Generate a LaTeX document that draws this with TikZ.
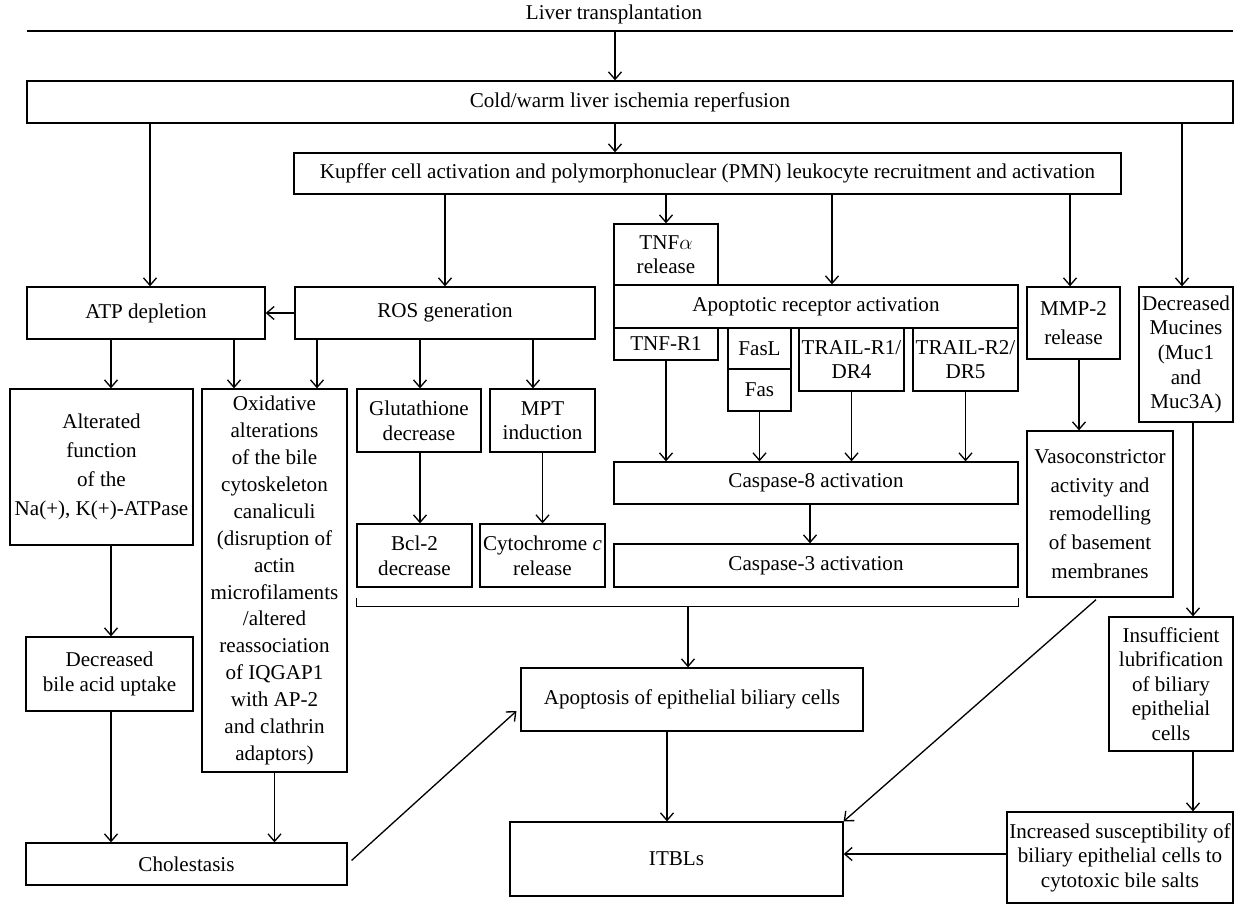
\documentclass[tikz,border=0pt]{standalone}
\usepackage{fontspec}
\setmainfont{Liberation Serif}
\usetikzlibrary{positioning,calc,arrows.meta}

\begin{document}
\begin{tikzpicture}[
    x=0.02cm, y=-0.02cm, % one unit is one pixel of the layout
    font=\fontsize{12}{14}\selectfont,
    box/.style={draw, rectangle, align=center, inner sep=1pt, line width=0.75pt}, % box style
    sz/.style 2 args={minimum width=#1*0.02cm, minimum height=#2*0.02cm}, % box size in px
    wide/.style={font=\fontsize{12}{16.4}\selectfont}, % looser line spacing
    arrow/.style={-{Straight Barb[length=1.5mm,width=2.6mm]}, line width=0.75pt} % arrow style
    ]
    \useasboundingbox (0,0) rectangle (1234,904);

    % Top line
    \node (LT) at (614,14) {Liver transplantation};
    \draw[line width=0.75pt] (27,31) -- (1233,31);
    \coordinate (T0) at (615,31);

    % Ischemia and Kupffer cells
    \node[box, sz={1206}{42}] (cold) at (630,102) {Cold/warm liver ischemia reperfusion};
    \node[box, sz={827}{41}] (kupffer) at (707.5,173.5) {Kupffer cell activation and polymorphonuclear (PMN) leukocyte recruitment and activation};

    % ATP and ROS
    \node[box, sz={238}{52}] (atp) at (146,313) {ATP depletion};
    \node[box, sz={300}{52}] (ros) at (445,313) {ROS generation};
    \node[box, sz={183}{156}, wide] (alt) at (101.5,467) {Alterated\\function\\of the\\Na(+), K(+)-ATPase};
    \node[box, sz={145}{383}, font=\fontsize{12}{15.3}\selectfont] (oxi) at (274.5,580.5) {Oxidative\\alterations\\of the bile\\cytoskeleton\\canaliculi\\(disruption of\\actin\\microfilaments\\/altered\\reassociation\\of IQGAP1\\with AP-2\\and clathrin\\adaptors)};
    \node[box, sz={124}{63}] (glu) at (419,420.5) {Glutathione\\decrease};
    \node[box, sz={105}{63}] (mpt) at (542.5,420.5) {MPT\\induction};
    \node[box, sz={115}{63}] (bcl) at (414.5,555.5) {Bcl-2\\decrease};
    \node[box, sz={125}{63}] (cyt) at (542.5,555.5) {Cytochrome \textit{c}\\release};

    % Apoptotic receptors
    \node[box, sz={104}{61}] (tnfa) at (666,254.5) {TNF$\alpha$\\release};
    \node[box, sz={404}{43}] (apr) at (816,306.5) {Apoptotic receptor activation};
    \node[box, sz={104}{32}] (tnfr1) at (666,344) {TNF-R1};
    \node[box, sz={63}{41}] (fasl) at (759.5,348.5) {FasL};
    \node[box, sz={63}{42}] (fas) at (759.5,390) {Fas};
    \node[box, sz={105}{63}] (trail1) at (851.5,359.5) {TRAIL-R1/\\DR4};
    \node[box, sz={105}{63}] (trail2) at (965.5,359.5) {TRAIL-R2/\\DR5};
    \node[box, sz={404}{42}] (casp8) at (816,483) {Caspase-8 activation};
    \node[box, sz={404}{43}] (casp3) at (816,565.5) {Caspase-3 activation};

    % MMP-2 and mucines
    \node[box, sz={93}{72}, wide] (mmp) at (1073.5,323) {MMP-2\\release};
    \node[box, sz={94}{135}] (muc) at (1186,354.5) {Decreased\\Mucines\\(Muc1\\and\\Muc3A)};
    \node[box, sz={146}{166}, wide] (vaso) at (1100,514) {Vasoconstrictor\\activity and\\remodelling\\of basement\\membranes};
    \node[box, sz={124}{134}] (insuf) at (1171,684) {Insufficient\\lubrification\\of biliary\\epithelial\\cells};

    % Lower part
    \node[box, sz={167}{74}] (dec) at (109.5,674) {Decreased\\bile acid uptake};
    \node[box, sz={321}{42}] (chol) at (186.5,864) {Cholestasis};
    \node[box, sz={342}{63}] (apo) at (692,699.5) {Apoptosis of epithelial biliary cells};
    \node[box, sz={333}{74}] (itbl) at (676.5,859) {ITBLs};
    \node[box, sz={226}{91}] (incr) at (1120,857.5) {Increased susceptibility of\\biliary epithelial cells to\\cytotoxic bile salts};

    % Bracket under the apoptotic boxes
    \draw[line width=0.75pt] ($(bcl.south west)+(0,10)$) -- ++(0,9) -| ($(casp3.south east)+(0,10)$);
    \coordinate (brk) at (688,606);

    % Columns of the vertical arrows
    \coordinate (xA) at (150,0);
    \coordinate (xM) at (1182,0);
    \coordinate (xP) at (832,0);
    \coordinate (xMM) at (1070,0);
    \coordinate (xL) at (111,0);
    \coordinate (xO1) at (234,0);
    \coordinate (xO2) at (317,0);
    \coordinate (xG) at (420,0);
    \coordinate (xMP) at (533,0);
    \coordinate (xC8) at (810,0);
    \coordinate (xV) at (1079,0);
    \coordinate (xI) at (1193,0);
    \coordinate (xIt) at (667,0);

    % Arrows from the top
    \draw[arrow] (T0) -- (T0 |- cold.north);
    \draw[arrow] (T0 |- cold.south) -- (T0 |- kupffer.north);
    \draw[arrow] (xA |- cold.south) -- (xA |- atp.north);
    \draw[arrow] (xM |- cold.south) -- (xM |- muc.north);

    % Arrows from Kupffer cells
    \draw[arrow] (ros.north |- kupffer.south) -- (ros.north);
    \draw[arrow] (tnfa.north |- kupffer.south) -- (tnfa.north);
    \draw[arrow] (xP |- kupffer.south) -- (xP |- apr.north);
    \draw[arrow] (xMM |- kupffer.south) -- (xMM |- mmp.north);

    % ATP and ROS branches
    \draw[arrow] (ros.west) -- (atp.east);
    \draw[arrow] (xL |- atp.south) -- (xL |- alt.north);
    \draw[arrow] (xO1 |- atp.south) -- (xO1 |- oxi.north);
    \draw[arrow] (xO2 |- ros.south) -- (xO2 |- oxi.north);
    \draw[arrow] (xG |- ros.south) -- (xG |- glu.north);
    \draw[arrow] (xMP |- ros.south) -- (xMP |- mpt.north);
    \draw[arrow] (xG |- glu.south) -- (xG |- bcl.north);
    \draw[arrow] (mpt.south) -- (cyt.north);

    % Receptors to caspases
    \foreach \r in {tnfr1,fas,trail1,trail2}
        \draw[arrow] (\r.south) -- (\r.south |- casp8.north);
    \draw[arrow] (xC8 |- casp8.south) -- (xC8 |- casp3.north);

    % Right side
    \draw[arrow] (xV |- mmp.south) -- (xV |- vaso.north);
    \draw[arrow] (xI |- muc.south) -- (xI |- insuf.north);
    \draw[arrow] (xI |- insuf.south) -- (xI |- incr.north);

    % Left side
    \draw[arrow] (xL |- alt.south) -- (xL |- dec.north);
    \draw[arrow] (xL |- dec.south) -- (xL |- chol.north);
    \draw[arrow] (oxi.south) -- (oxi.south |- chol.north);

    % Towards ITBLs
    \draw[arrow, shorten <=3pt, shorten >=3pt] (chol.east) -- ($(apo.west)+(0,8)$);
    \draw[arrow] (brk) -- (brk |- apo.north);
    \draw[arrow] (xIt |- apo.south) -- (xIt |- itbl.north);
    \draw[arrow] ($(vaso.south)+(-4,2)$) -- (itbl.north east);
    \draw[arrow] (incr.west |- 0,854) -- (itbl.east |- 0,854);

\end{tikzpicture}
\end{document}
